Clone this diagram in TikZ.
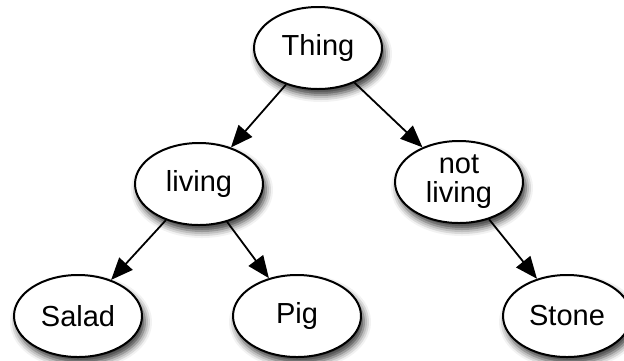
\documentclass[tikz,border=0pt]{standalone}
\usepackage{fontspec}
\setmainfont{Liberation Sans}
\usetikzlibrary{shapes.geometric,arrows.meta,shadows.blur}
\begin{document}
\begin{tikzpicture}[x=0.5pt,y=-0.5pt,
    concept/.style={ellipse,draw,line width=1pt,fill=white,minimum width=64pt,minimum height=41pt,
      inner sep=0pt,align=center,font=\fontsize{14.5}{14.5}\selectfont,
      blur shadow={shadow xshift=1.5pt,shadow yshift=-3pt,shadow blur radius=3.5pt,shadow opacity=80}},
    isa/.style={-{Triangle[length=11pt,width=9pt]},line width=0.9pt}]
  \useasboundingbox (0,0) rectangle (624,360);
  \node[concept] (thing) at (318,48) {Thing};
  \node[concept] (living) at (199,184) {living};
  \node[concept] (notliving) at (459,182) {not\\living};
  \node[concept] (salad) at (78,316) {Salad};
  \node[concept] (pig) at (297,316) {Pig};
  \node[concept] (stone) at (567,316) {Stone};
  \foreach \a/\b in {thing/living,thing/notliving,living/salad,living/pig,notliving/stone} {
    \draw[isa] (\a) -- (\b);
  }
\end{tikzpicture}
\end{document}
